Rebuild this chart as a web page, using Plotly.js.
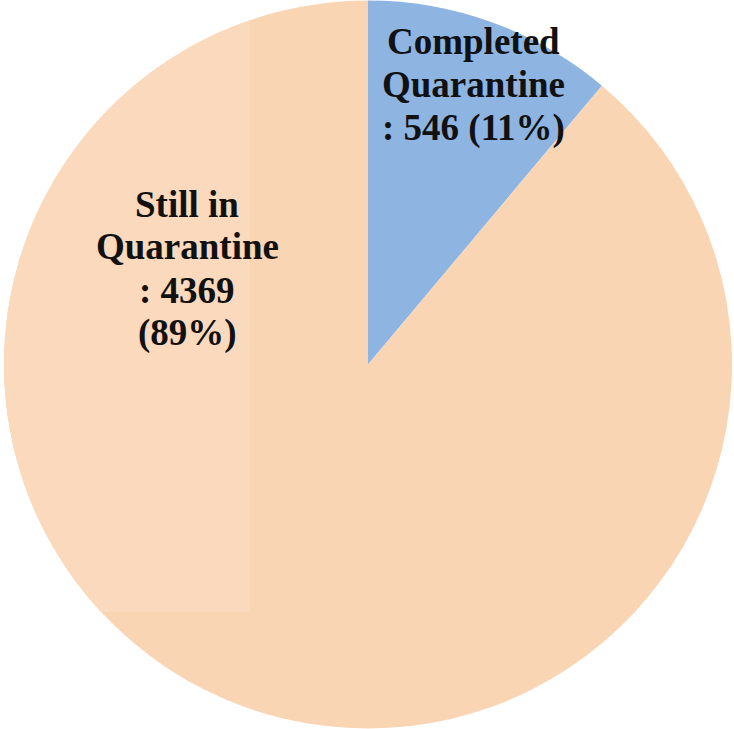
<!DOCTYPE html>
<html>
<head>
<meta charset="utf-8">
<script src="https://cdn.plot.ly/plotly-3.0.1.min.js"></script>
<style>html,body{margin:0;padding:0;background:#fff;}#chart{width:734px;height:729px;}</style>
</head>
<body>
<div id="chart"></div>
<script>
const categories = ["Completed Quarantine", "Still in Quarantine"];
const values = [546, 4369];
const percentLabels = ["11%", "89%"];
const labelLines = [
  ["Completed", "Quarantine", ": 546 (11%)"],
  ["Still in", "Quarantine", ": 4369", "(89%)"]
];
const colors = ["#8EB4E2", "#FAD5B4"];

const W = 734, H = 729;
// pie geometry (pixels)
const cx = 368, cy = 364.5, R = 364;

// label anchor positions (pixel baselines of each line)
const labelPos = [
  {x: 473, base: 53},
  {x: 187, base: 215}
];
const lineGap = 43;
const fs = 37;

const annotations = [];
labelLines.forEach((lines, i) => {
  lines.forEach((t, j) => {
    const by = labelPos[i].base + j * lineGap;
    annotations.push({
      text: "<b>" + t + "</b>",
      xref: "paper", yref: "paper",
      x: labelPos[i].x / W,
      y: 1 - (by - 11) / H,
      xanchor: "center", yanchor: "middle",
      showarrow: false,
      font: {family: "Liberation Serif, Times New Roman, serif", size: fs, color: "#111"}
    });
  });
});

// lighter text-box background (rectangle clipped by circle)
const rx = 250, ry = 612;
const a1 = Math.atan2(-(Math.sqrt(R*R - (rx-cx)*(rx-cx))), rx - cx); // top intersection
const a2 = Math.atan2(Math.sqrt(R*R - (ry-cy)*(ry-cy)) * 0 + (ry - cy), -Math.sqrt(R*R - (ry-cy)*(ry-cy)));
let pts = [];
// go from a1 (top, angle ~ -110deg) counterclockwise in screen to a2 (bottom-left)
let start = a1, end = a2;
if (end > start) end -= 2*Math.PI;
const N = 80;
for (let k = 0; k <= N; k++) {
  const a = start + (end - start) * k / N;
  pts.push([cx + R*Math.cos(a), cy + R*Math.sin(a)]);
}
pts.push([rx, ry]);
let path = pts.map((p, k) => (k === 0 ? "M" : "L") + (p[0]/W).toFixed(5) + "," + (1 - p[1]/H).toFixed(5)).join(" ") + " Z";

const data = [{
  type: "pie",
  labels: categories,
  values: values,
  sort: false,
  direction: "clockwise",
  rotation: 0,
  textinfo: "none",
  hoverinfo: "label+value+percent",
  marker: {colors: colors, line: {width: 0}},
  domain: {x: [(cx - R)/W, (cx + R)/W], y: [1 - (cy + R)/H, 1 - (cy - R)/H]},
  showlegend: false
}];

const layout = {
  width: W, height: H,
  margin: {l: 0, r: 0, t: 0, b: 0},
  paper_bgcolor: "#fff",
  showlegend: false,
  shapes: [{
    type: "path", xref: "paper", yref: "paper", path: path,
    fillcolor: "#FBD9BD", line: {width: 0}, layer: "above"
  }],
  annotations: annotations
};

Plotly.newPlot("chart", data, layout, {displayModeBar: false, staticPlot: true});
</script>
</body>
</html>
